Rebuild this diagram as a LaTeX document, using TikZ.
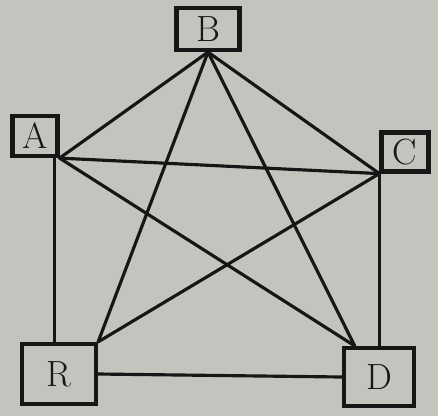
\documentclass[tikz,border=0pt]{standalone}
\usetikzlibrary{positioning}
\definecolor{paper}{RGB}{196,196,190}
\definecolor{ink}  {RGB}{22,22,22}

\begin{document}
\begin{tikzpicture}[x=0.02cm, y=-0.02cm,
    vbox/.style={draw=ink, line width=2.4pt, inner sep=0pt,
                 text=ink, font=\huge},
    edge/.style={draw=ink, line width=1.8pt, line cap=round}]
  \fill[paper] (0,0) rectangle (438,416);
  \useasboundingbox (0,0) rectangle (438,416);

  % vertices
  \node[vbox, minimum width=1.26cm, minimum height=0.84cm] (b) at (208,29)  {B};
  \node[vbox, minimum width=0.90cm, minimum height=0.80cm] (a) at (35,136)  {A};
  \node[vbox, minimum width=0.94cm, minimum height=0.78cm] (c) at (405,152) {C};
  \node[vbox, minimum width=1.48cm, minimum height=1.20cm] (e) at (59,374)  {R};
  \node[vbox, minimum width=1.40cm, minimum height=1.16cm] (d) at (379,377) {D};

  % edges
  \draw[edge] (a.south east) -- (b.south);
  \draw[edge] (a.south east) -- (c.south west);
  \draw[edge] (a.south east) -- (d.128);
  \draw[edge] (a.-49) -- (a.-49 |- e.north);
  \draw[edge] (b.south) -- (c.south west);
  \draw[edge] (b.south) -- (e.north east);
  \draw[edge] (b.south) -- (d.128);
  \draw[edge] (c.south west) -- (e.north east);
  \draw[edge] (c.south west) -- (c.south west |- d.north);
  \draw[edge] (e.east) -- (d.west);
\end{tikzpicture}
\end{document}
